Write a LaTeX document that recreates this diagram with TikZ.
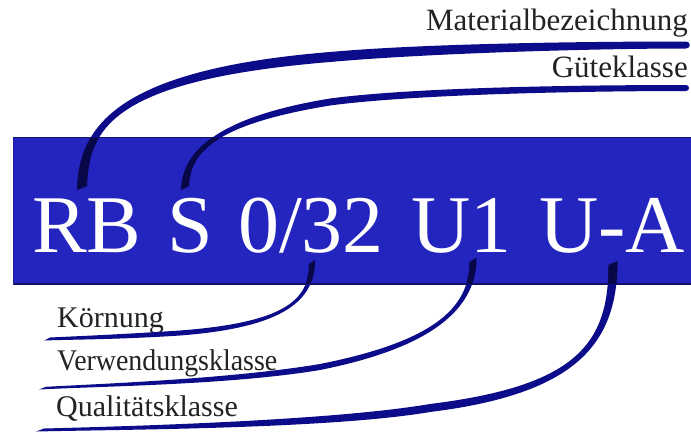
\documentclass[tikz,border=0pt]{standalone}
\usepackage{fontspec}
\setmainfont{Liberation Serif}
\usetikzlibrary{calc}
\definecolor{plate}{RGB}{36,36,190}
\definecolor{plateedge}{RGB}{18,18,105}
\definecolor{ink}{RGB}{12,12,138}
\definecolor{inkdark}{RGB}{8,8,72}
\definecolor{labelgray}{RGB}{35,35,35}
\newcommand\plateword[1]{\scalebox{2.7333}{\fontsize{30}{34}\selectfont #1}}
\begin{document}
\begin{tikzpicture}[x=1pt,y=-1pt,
  code/.style={inner sep=0pt, anchor=base west, text=white},
  lbl/.style={inner sep=0pt, text=labelgray, font=\fontsize{30}{34}\selectfont},
  toplbl/.style={lbl, anchor=base east, font=\fontsize{31}{34}\selectfont},
  botlbl/.style={lbl, anchor=base west},
  brush/.style={fill=ink},
  brushin/.style={fill=inkdark}]
\useasboundingbox (0,0) rectangle (691,432);
\fill[white] (0,0) rectangle (691,432);

% the plate carrying the designation
\fill[plate] (13,137) rectangle (691,285);
\draw[plateedge, line width=1] (13,137.5) -- (691,137.5);
\draw[plateedge, line width=2] (13,284) -- (691,284);
\draw[plateedge!50!plate, line width=1] (13.5,137) -- (13.5,285);

% designation, word by word
\node[code] (rb)  at (32,252)  {\plateword{RB}};
\node[code] (s)   at (167,252) {\plateword{S}};
\node[code] (o32) at (238,252) {\plateword{0/32}};
\node[code] (u1)  at (411,252) {\plateword{U1}};
\node[code] (ua)  at (539,252) {\plateword{U-A}};

% labels
\node[toplbl] (mat)  at (688,30)  {Materialbezeichnung};
\node[toplbl] (gut)  at (688,77)  {Güteklasse};
\node[botlbl] (kor)  at (57,327)  {Körnung};
\node[botlbl] (ver)  at (57,370)  {\scalebox{0.93}[1]{Verwendungsklasse}};
\node[botlbl] (qual) at (56,416)  {Qualitätsklasse};

% connector end points: one on the plate, one under each label
\coordinate (rbE)  at (82,188);  \coordinate (matR) at (686,45);
\coordinate (sE)   at (185,188); \coordinate (gutR) at (686,88);
\coordinate (o32E) at (312,262); \coordinate (korL) at (48,339);
\coordinate (u1E)  at (473,260); \coordinate (verL) at (43,388);
\coordinate (uaE)  at (613,263); \coordinate (qualL) at (40,430);

% brush-stroke outlines of the connectors
\def\matstroke{($(rbE)+(-5,2)$) .. controls (79,130) and (110,70) .. (330,52)
  .. controls (430,43) and (600,41.5) .. ($(matR)+(0,-3.5)$)
  .. controls +(5,0) and +(5,0) .. ($(matR)+(0,3.5)$)
  .. controls (600,48.5) and (430,53) .. (330,62)
  .. controls (110,80) and (89,130) .. ($(rbE)+(5,-2)$) -- cycle}
\def\gutstroke{($(sE)+(-4,2)$) .. controls (182,150) and (220,116.5) .. (330,98.5)
  .. controls (420,86.5) and (600,85) .. ($(gutR)+(0,-3)$)
  .. controls +(4,0) and +(4,0) .. ($(gutR)+(0,3)$)
  .. controls (600,91) and (420,93.5) .. (330,105.5)
  .. controls (220,123.5) and (190,150) .. ($(sE)+(4,-2)$) -- cycle}
\def\korstroke{($(o32E)+(3,-2)$) .. controls (315,300) and (285,327.5) .. (180,335.5)
  .. controls (120,339.5) and (70,339.5) .. ($(korL)+(-4,1.5)$)
  -- ($(korL)+(2,-1.5)$)
  .. controls (70,336.5) and (120,334.5) .. (180,330.5)
  .. controls (285,322.5) and (309,300) .. ($(o32E)+(-3,2)$) -- cycle}
\def\verstroke{($(u1E)+(3.5,-2)$) .. controls (476.5,310) and (430,348) .. (320,370)
  .. controls (230,385) and (100,386.2) .. ($(verL)+(-4,1.5)$)
  -- ($(verL)+(3,-1.2)$)
  .. controls (100,383.8) and (230,379) .. (320,364)
  .. controls (430,342) and (469.5,310) .. ($(u1E)+(-3.5,2)$) -- cycle}
\def\qualstroke{($(uaE)+(4.5,-2)$) .. controls (617.5,345) and (575,394) .. (430,412)
  .. controls (330,429) and (120,429.5) .. ($(qualL)+(-4,1.5)$)
  -- ($(qualL)+(4,-1.5)$)
  .. controls (120,426.5) and (330,421) .. (430,404)
  .. controls (575,386) and (608.5,345) .. ($(uaE)+(-4.5,2)$) -- cycle}

\path[brush] \matstroke;
\path[brush] \gutstroke;
\path[brush] \korstroke;
\path[brush] \verstroke;
\path[brush] \qualstroke;

% the strokes look darker where they lie on the plate
\begin{scope}
  \clip (13,138) rectangle (691,283);
  \path[brushin] \matstroke;
  \path[brushin] \gutstroke;
  \path[brushin] \korstroke;
  \path[brushin] \verstroke;
  \path[brushin] \qualstroke;
\end{scope}
\end{tikzpicture}
\end{document}
